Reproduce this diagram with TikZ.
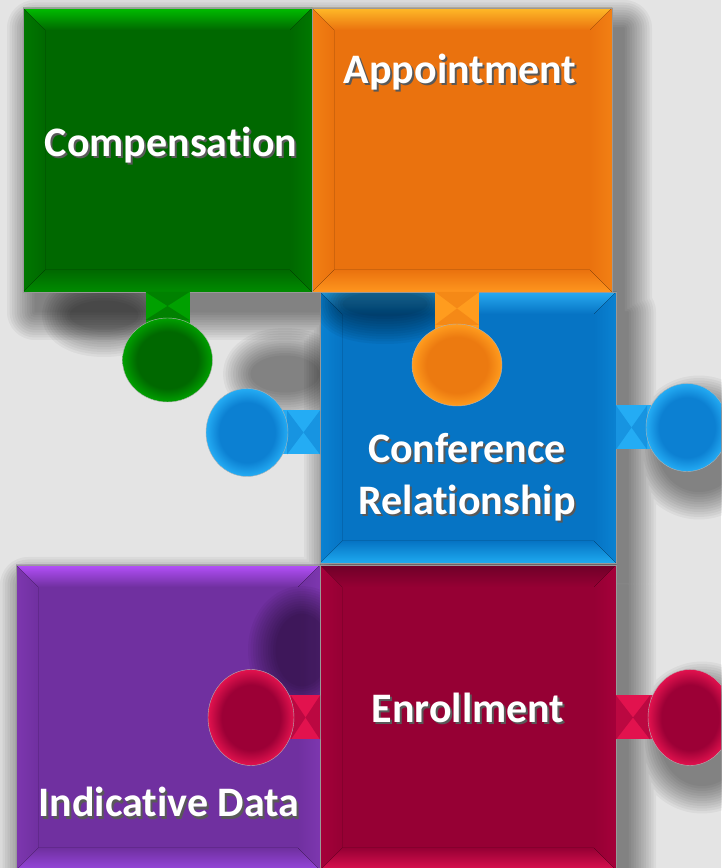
\documentclass[tikz,border=0pt]{standalone}
\usepackage{fontspec}
\setmainfont{Carlito}[Ligatures=NoCommon]
\usepackage{xcolor}
\usepackage{tikz}
\usetikzlibrary{positioning,calc}

\definecolor{bg}{RGB}{228,228,228}
\definecolor{gB}{RGB}{0,104,0}\definecolor{gT}{RGB}{0,190,0}\definecolor{gD}{RGB}{0,140,0}\definecolor{gS}{RGB}{0,120,0}
\definecolor{gL}{RGB}{0,160,0}\definecolor{gK}{RGB}{0,104,0}
\definecolor{oB}{RGB}{234,114,14}\definecolor{oT}{RGB}{255,186,40}\definecolor{oD}{RGB}{255,150,30}\definecolor{oS}{RGB}{242,128,20}
\definecolor{oL}{RGB}{255,156,30}\definecolor{oK}{RGB}{236,122,16}
\definecolor{bB}{RGB}{6,116,196}\definecolor{bT}{RGB}{40,170,240}\definecolor{bD}{RGB}{30,170,240}\definecolor{bS}{RGB}{10,130,210}
\definecolor{bL}{RGB}{36,172,244}\definecolor{bK}{RGB}{12,128,210}
\definecolor{pB}{RGB}{112,48,160}\definecolor{pT}{RGB}{180,80,250}\definecolor{pD}{RGB}{150,70,220}\definecolor{pS}{RGB}{125,55,175}
\definecolor{rB}{RGB}{150,0,52}\definecolor{rT}{RGB}{110,0,40}\definecolor{rD}{RGB}{220,16,80}\definecolor{rS}{RGB}{165,0,58}
\definecolor{rL}{RGB}{226,18,78}\definecolor{rK}{RGB}{156,0,54}

\newcommand{\paintpiece}[2]{%
  \fill[#2B] (#1.south west) rectangle (#1.north east);
  \fill[top color=#2T,bottom color=#2B] (#1.north west) -- (#1.north east) -- ($(#1.north east)+(-22,-22)$) -- ($(#1.north west)+(22,-22)$) -- cycle;
  \fill[top color=#2B,bottom color=#2D] (#1.south west) -- (#1.south east) -- ($(#1.south east)+(-22,22)$) -- ($(#1.south west)+(22,22)$) -- cycle;
  \fill[left color=#2S,right color=#2B] (#1.north west) -- (#1.south west) -- ($(#1.south west)+(22,22)$) -- ($(#1.north west)+(22,-22)$) -- cycle;
  \fill[left color=#2B,right color=#2S] (#1.north east) -- (#1.south east) -- ($(#1.south east)+(-22,22)$) -- ($(#1.north east)+(-22,-22)$) -- cycle;
  \draw[black!40,line width=0.5pt] (#1.south west) rectangle (#1.north east);}

\newcommand{\knob}[5]{%
  \pgfdeclareradialshading{knob#4}{\pgfpoint{0bp}{0bp}}{color(0bp)=(#4K); color(17bp)=(#4K); color(25bp)=(#4L); color(50bp)=(#4L)}%
  \begin{scope}[shift={(#1)},rotate=#2]
    \fill[#4L] (0,-22) rectangle (#3,22);
    \fill[#4L!45!#4K] (0,-22) -- ({(#3-40)/2},0) -- (0,22) -- cycle;
    \fill[#4L!45!#4K] ({#3-40},-22) -- ({(#3-40)/2},0) -- ({#3-40},22) -- cycle;
    \shadedraw[draw=black!30,line width=0.4pt,shading=knob#4] (#3,0) ellipse (#5);
  \end{scope}}

\newcommand{\softshadow}[1]{%
  \foreach \w in {56,51,...,1}{%
    \begin{scope}[transparency group,opacity=0.045]
      \filldraw[black,line width=\w pt,line join=round] #1;
    \end{scope}}}

\newcommand{\shtext}[1]{\leavevmode\rlap{\kern2pt\raisebox{-2pt}{\color{black!65}#1}}#1}

\begin{document}
\begin{tikzpicture}[x=1pt,y=1pt,
  piece/.style={inner sep=0pt,outer sep=0pt},
  lbl/.style={text=white,font=\bfseries\fontsize{42}{52}\selectfont,align=center,anchor=base}]
\useasboundingbox (0,0) rectangle (721,868);
\clip (0,0) rectangle (721,868);
\node[piece,minimum width=289pt,minimum height=284pt] (comp) at (167.5,718) {};
\node[piece,minimum width=300pt,minimum height=284pt,right=0pt of comp] (appt) {};
\node[piece,minimum width=296pt,minimum height=271pt] (conf) at (468,440.5) {};
\node[piece,minimum width=296pt,minimum height=305pt,below=2pt of conf] (enrl) {};
\node[piece,minimum width=304pt,minimum height=305pt,left=0pt of enrl] (indic) {};

\fill[bg] (0,0) rectangle (721,868);
\begin{scope}[transform canvas={shift={(12,-20)}}]
\softshadow{(comp.south west) rectangle (appt.north east) (conf.south west) rectangle (conf.north east) (indic.south west) rectangle (enrl.north east) (687,440.5) ellipse (41 and 44) (690,150.5) ellipse (42 and 48)}
\end{scope}
\softshadow{(104,553) ellipse (34 and 14) (285,494) ellipse (34 and 18)}

\paintpiece{indic}{p}
\begin{scope}
\clip (indic.south west) rectangle (indic.north east);
\softshadow{(302,218) ellipse (26 and 36)}
\end{scope}
\paintpiece{enrl}{r}
\knob{enrl.west}{180}{69}{r}{43 and 48}
\knob{enrl.east}{0}{74}{r}{42 and 48}

\paintpiece{conf}{b}
\knob{$(conf.west)+(0,-5)$}{180}{73}{b}{41 and 44}
\knob{conf.east}{0}{71}{b}{41 and 44}
\begin{scope}
\clip (conf.south west) rectangle (conf.north east);
\softshadow{(385,564) ellipse (42 and 12)}
\end{scope}

\paintpiece{comp}{g}
\paintpiece{appt}{o}
\knob{comp.south}{270}{68}{g}{42 and 45}
\knob{$(appt.south)+(-5,0)$}{270}{73}{o}{41 and 45}

\node[lbl] (compt) at (171,711) {\shtext{Compensation}};
\node[lbl] (apptt) at (460,784) {\shtext{Appointment}};
\node[lbl,anchor=center] (conft) at (467,390) {\shtext{Conference}\\\shtext{Relationship}};
\node[lbl] (enrlt) at (468,145) {\shtext{Enrollment}};
\node[lbl] (indict) at (169,51) {\shtext{Indicative Data}};
\end{tikzpicture}
\end{document}
